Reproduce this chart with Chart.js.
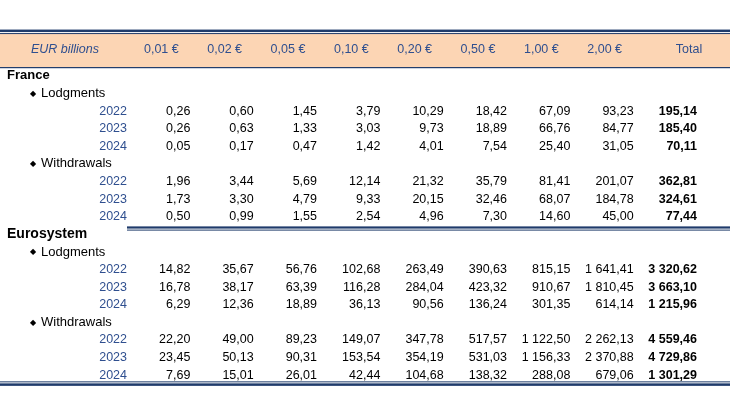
<!DOCTYPE html>
<html><head><meta charset="utf-8">
<script src="https://cdn.jsdelivr.net/npm/chart.js@4/dist/chart.umd.min.js"></script>
<style>html,body{margin:0;background:#fff}#c{display:block}</style>
</head><body>
<div style="width:730px;height:410px"><canvas id="c"></canvas></div>
<script>
const columns = ['0,01 €', '0,02 €', '0,05 €', '0,10 €', '0,20 €', '0,50 €', '1,00 €', '2,00 €', 'Total'];
const years = ['2022', '2023', '2024'];
const franceLodgments = [
  ['0,26', '0,60', '1,45', '3,79', '10,29', '18,42', '67,09', '93,23', '195,14'],
  ['0,26', '0,63', '1,33', '3,03', '9,73', '18,89', '66,76', '84,77', '185,40'],
  ['0,05', '0,17', '0,47', '1,42', '4,01', '7,54', '25,40', '31,05', '70,11']
];
const franceWithdrawals = [
  ['1,96', '3,44', '5,69', '12,14', '21,32', '35,79', '81,41', '201,07', '362,81'],
  ['1,73', '3,30', '4,79', '9,33', '20,15', '32,46', '68,07', '184,78', '324,61'],
  ['0,50', '0,99', '1,55', '2,54', '4,96', '7,30', '14,60', '45,00', '77,44']
];
const euroLodgments = [
  ['14,82', '35,67', '56,76', '102,68', '263,49', '390,63', '815,15', '1 641,41', '3 320,62'],
  ['16,78', '38,17', '63,39', '116,28', '284,04', '423,32', '910,67', '1 810,45', '3 663,10'],
  ['6,29', '12,36', '18,89', '36,13', '90,56', '136,24', '301,35', '614,14', '1 215,96']
];
const euroWithdrawals = [
  ['22,20', '49,00', '89,23', '149,07', '347,78', '517,57', '1 122,50', '2 262,13', '4 559,46'],
  ['23,45', '50,13', '90,31', '153,54', '354,19', '531,03', '1 156,33', '2 370,88', '4 729,86'],
  ['7,69', '15,01', '26,01', '42,44', '104,68', '138,32', '288,08', '679,06', '1 301,29']
];

// build row list: each row has a kind and content
const rows = [];
function addBlock(name, lodg, wd) {
  rows.push({ kind: 'group', text: name });
  rows.push({ kind: 'sub', text: 'Lodgments' });
  lodg.forEach((v, i) => rows.push({ kind: 'data', year: years[i], values: v }));
  rows.push({ kind: 'sub', text: 'Withdrawals' });
  wd.forEach((v, i) => rows.push({ kind: 'data', year: years[i], values: v }));
}
addBlock('France', franceLodgments, franceWithdrawals);
addBlock('Eurosystem', euroLodgments, euroWithdrawals);

const navy = '#1F3B6B';
const blue = '#2F4F8F';
const FONT = '"Liberation Sans", Arial, sans-serif';

const tablePlugin = {
  id: 'table',
  afterDraw(chart) {
    const ctx = chart.ctx;
    const x = chart.scales.x, y = chart.scales.y;
    const W = chart.width;
    const px = (v) => x.getPixelForValue(v);
    const py = (v) => y.getPixelForValue(v);
    ctx.save();
    // header band
    const bandTop = py(-2.4), bandBot = py(-0.5);
    ctx.fillStyle = '#FCD5B4';
    ctx.fillRect(0, bandTop, W, bandBot - bandTop);
    ctx.fillStyle = navy;
    ctx.fillRect(0, bandTop - 4, W, 2.5);
    ctx.fillRect(0, bandTop - 0.5, W, 1);
    ctx.fillRect(0, bandBot, W, 1.2);
    ctx.textBaseline = 'middle';
    ctx.font = 'italic 12.5px ' + FONT;
    ctx.fillStyle = blue;
    ctx.textAlign = 'center';
    ctx.fillText('EUR billions', px(-0.98), py(-1.5));
    ctx.font = '12.5px ' + FONT;
    columns.forEach((c, i) => {
      ctx.fillText(c, px(i + 1) - (i === 8 ? 8 : 29), py(-1.5));
    });
    rows.forEach((r, ri) => {
      const yy = py(ri);
      if (r.kind === 'group') {
        ctx.fillStyle = '#000';
        ctx.textAlign = 'left';
        ctx.font = 'bold ' + (r.text === 'Eurosystem' ? 14 : 13) + 'px ' + FONT;
        ctx.fillText(r.text, 7, yy);
      } else if (r.kind === 'sub') {
        ctx.fillStyle = '#000';
        ctx.textAlign = 'left';
        ctx.font = '8px ' + FONT;
        ctx.fillText('◆', 30, yy);
        ctx.font = '13px ' + FONT;
        ctx.fillText(r.text, 41, yy);
      } else {
        ctx.textAlign = 'right';
        ctx.font = '12.5px ' + FONT;
        ctx.fillStyle = blue;
        ctx.fillText(r.year, px(0), yy);
        ctx.fillStyle = '#000';
        r.values.forEach((v, i) => {
          ctx.font = (i === 8 ? 'bold ' : '') + '12.5px ' + FONT;
          ctx.fillText(v, px(i + 1), yy);
        });
      }
    });
    // separator after France block
    ctx.fillStyle = navy;
    const sep = py(8.55);
    ctx.fillRect(px(0), sep, W - px(0), 2.2);
    ctx.fillRect(px(0), sep + 3.2, W - px(0), 1);
    // bottom double line
    const bot = py(17.35);
    ctx.fillRect(0, bot, W, 1);
    ctx.fillRect(0, bot + 2, W, 2.5);
    ctx.restore();
  }
};

new Chart(document.getElementById('c'), {
  type: 'scatter',
  data: { datasets: [] },
  options: {
    responsive: true,
    maintainAspectRatio: false,
    animation: false,
    events: [],
    layout: { padding: { left: 127, right: 33, top: 23, bottom: 26 } },
    plugins: { legend: { display: false }, tooltip: { enabled: false } },
    scales: {
      x: { type: 'linear', min: 0, max: 9, display: false },
      y: { type: 'linear', min: -3, max: 17.5, reverse: true, display: false }
    }
  },
  plugins: [tablePlugin]
});
</script>
</body></html>
